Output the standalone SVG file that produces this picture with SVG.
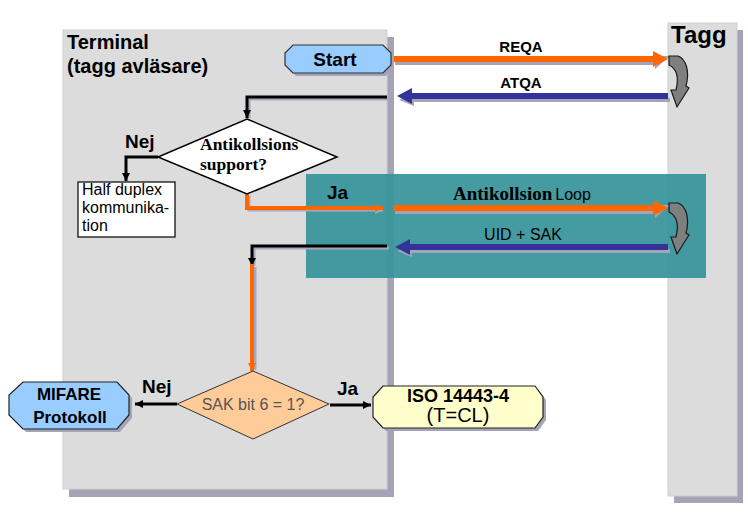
<svg xmlns="http://www.w3.org/2000/svg" width="748" height="526" viewBox="0 0 748 526">
<defs>
<style>
.panel{fill:#dcdcdc;stroke:#d0d0d0;stroke-width:1}
.pshadow{fill:#a4a4b6}
.shd{fill:#a4a4b8}
.shl{fill:none;stroke:#a8a8bc;stroke-width:3}
.blk{fill:none;stroke:#000;stroke-width:3}
.org{fill:none;stroke:#ff6600;stroke-width:4}
.ar{font-family:"Liberation Sans",Arial,sans-serif}
.b{font-weight:bold}
.tb{font-family:"Liberation Serif","Times New Roman",serif;font-weight:bold}
.curl{fill:#7f7f7f;stroke:#1a1a1a;stroke-width:1.2}
</style>
<marker id="mb" markerUnits="userSpaceOnUse" markerWidth="10" markerHeight="10" refX="8" refY="4" orient="auto"><path d="M0,0 L8,4 L0,8 Z" fill="#000"/></marker>
<marker id="mo" markerUnits="userSpaceOnUse" markerWidth="10" markerHeight="10" refX="8" refY="4" orient="auto"><path d="M0,0 L8,4 L0,8 Z" fill="#ff6600"/></marker>
<marker id="mg" markerUnits="userSpaceOnUse" markerWidth="10" markerHeight="10" refX="8" refY="4" orient="auto"><path d="M0,0 L8,4 L0,8 Z" fill="#a8a8bc"/></marker>
</defs>
<rect width="748" height="526" fill="#fff"/>

<g id="terminal-lane">
<rect class="pshadow" x="69" y="37" width="325" height="460"/>
<rect class="panel" x="63" y="30" width="324" height="459"/>
<text class="ar b" x="67" y="49" font-size="20">Terminal</text>
<text class="ar b" x="67" y="73" font-size="20">(tagg avläsare)</text>
</g>

<g id="tagg-lane">
<rect class="pshadow" x="674" y="30" width="69" height="473"/>
<rect class="panel" x="668" y="23" width="69" height="473"/>
<text class="ar b" x="671" y="43" font-size="24">Tagg</text>
</g>

<g id="anticollision-loop">
<rect x="306" y="174" width="400" height="104" fill="#36939a" opacity="0.93"/>
</g>

<g id="connectors">
<!-- shadows -->
<path class="shl" d="M389,99 H249 V118"/>
<path class="shl" d="M249,196 V210 H383" marker-end="url(#mg)"/>
<path class="shl" d="M389,248 H254 V266"/>
<path class="shl" d="M255,267 V370"/>
<!-- message arrow shadows -->
<path class="shd" d="M395,61 H655 V56 H670 L655,69 V65 H395 Z"/>
<path class="shd" d="M670,98 H414 V93 L399,100 L414,106 V102 H670 Z"/>
<path class="shd" d="M395,210 H655 V205 H670 L655,218 V214 H395 Z"/>
<path class="shd" d="M670,249 H412 V244 L397,251 L412,257 V253 H670 Z"/>
<!-- message arrows -->
<path d="M393,56 H653 V51 L668,59 L653,67 V62 H393 Z" fill="#ff6600"/>
<path d="M668,93 H412 V88 L397,96 L412,104 V99 H668 Z" fill="#333399"/>
<path d="M393,205 H653 V200 L668,208 L653,216 V211 H393 Z" fill="#ff6600"/>
<path d="M668,244 H410 V239 L395,247 L410,255 V250 H668 Z" fill="#333399"/>
<!-- flow connectors -->
<path class="blk" d="M387,97 H247 V118" marker-end="url(#mb)"/>
<path class="blk" d="M158,157 H126 V181" marker-end="url(#mb)"/>
<path class="org" d="M247,194 V208 H383" marker-end="url(#mo)"/>
<path class="blk" d="M387,246 H252 V266" marker-end="url(#mb)"/>
<path class="org" d="M252,264 V371" marker-end="url(#mo)"/>
<path class="blk" d="M177,404 H135" marker-end="url(#mb)"/>
<path class="blk" d="M330,405 H371" marker-end="url(#mb)"/>
<!-- tag response curls -->
<path class="curl" transform="translate(669,56)" d="M0,0 L9,0 C17,3 21,15 17,30 L20,32 L8,51 L2,34 L7,34 C10,22 8,13 0,9 Z"/>
<path class="curl" transform="translate(669,203)" d="M0,0 L9,0 C17,3 21,15 17,30 L20,32 L8,51 L2,34 L7,34 C10,22 8,13 0,9 Z"/>
<!-- labels -->
<text class="ar b" x="521" y="52" font-size="15" text-anchor="middle">REQA</text>
<text class="ar b" x="521" y="88" font-size="15" text-anchor="middle">ATQA</text>
<text x="453" y="200" font-size="19"><tspan class="tb">Antikollsion</tspan><tspan class="ar" font-size="16" dx="3">Loop</tspan></text>
<text class="ar" x="523" y="240" font-size="16" text-anchor="middle">UID + SAK</text>
<text class="ar b" x="125" y="148" font-size="19">Nej</text>
<text class="ar b" x="327" y="199" font-size="19">Ja</text>
<text class="ar b" x="142" y="393" font-size="19">Nej</text>
<text class="ar b" x="337" y="395" font-size="19">Ja</text>
</g>

<g id="start">
<path d="M296,48 H386 L394,56 V68 L386,76 H296 L288,68 V56 Z" class="shd"/>
<path d="M293,45 H383 L391,53 V65 L383,73 H293 L285,65 V53 Z" fill="#99ccff" stroke="#333" stroke-width="1.2"/>
<text class="ar b" x="335" y="66" font-size="19" text-anchor="middle">Start</text>
</g>

<g id="antikollsions-support">
<path d="M247,119 L337,157 L247,194 L158,157 Z" fill="#fff" stroke="#000" stroke-width="1.5"/>
<text class="tb" x="200" y="150" font-size="17.5">Antikollsions</text>
<text class="tb" x="200" y="170" font-size="17.5">support?</text>
</g>

<g id="half-duplex">
<rect x="78" y="182" width="97" height="55" fill="#fff" stroke="#000" stroke-width="1.2"/>
<text class="ar" x="82" y="195" font-size="16">Half duplex</text>
<text class="ar" x="82" y="213" font-size="16">kommunika-</text>
<text class="ar" x="82" y="231" font-size="16">tion</text>
</g>

<g id="sak-bit6">
<path d="M253,371 L329,404 L253,439 L177,404 Z" fill="#ffcc99" stroke="#333" stroke-width="1"/>
<text class="ar" x="253" y="410" font-size="16" fill="#555" text-anchor="middle">SAK bit 6 = 1?</text>
</g>

<g id="mifare">
<path d="M26,385 H120 L132,398 V418 L120,432 H26 L12,418 V398 Z" class="shd"/>
<path d="M23,382 H117 L129,395 V415 L117,429 H23 L9,415 V395 Z" fill="#99ccff" stroke="#222" stroke-width="1.2"/>
<text class="ar b" x="69" y="400" font-size="17" text-anchor="middle">MIFARE</text>
<text class="ar b" x="70" y="423" font-size="17" text-anchor="middle">Protokoll</text>
</g>

<g id="iso14443">
<path d="M386,389 H538 L546,400 V420 L538,431 H386 L376,420 V400 Z" class="shd"/>
<path d="M383,386 H535 L543,397 V417 L535,428 H383 L373,417 V397 Z" fill="#ffffcc" stroke="#222" stroke-width="1.2"/>
<text class="ar b" x="458" y="402" font-size="18" text-anchor="middle">ISO 14443-4</text>
<text class="ar" x="458" y="422" font-size="20" text-anchor="middle">(T=CL)</text>
</g>
</svg>
